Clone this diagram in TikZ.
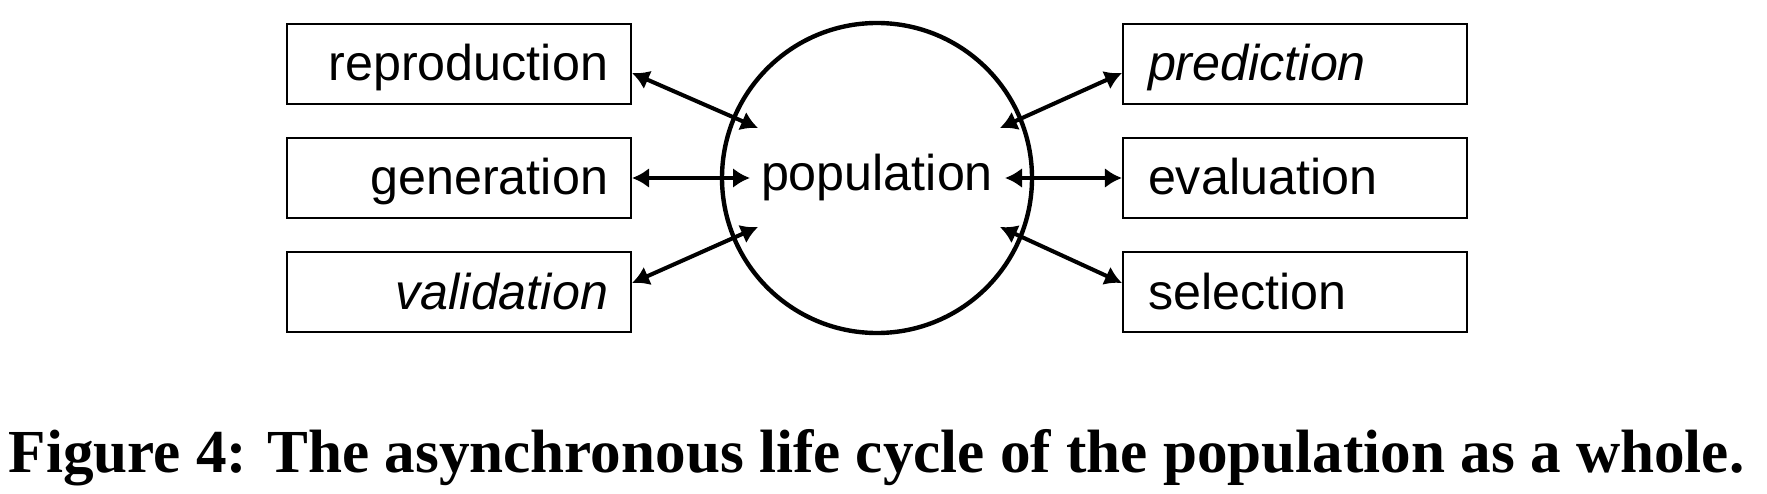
\documentclass[tikz,border=0pt]{standalone}
\usepackage{fontspec}
\setmainfont{Liberation Serif}
\setsansfont{Liberation Sans}
\usepackage{tikz}
\usetikzlibrary{positioning, arrows.meta}

\begin{document}
\begin{tikzpicture}[font=\sffamily\fontsize{14.3}{16}\selectfont,
    >={Latex[length=1.7mm, width=2mm]},
    stage/.style={draw, line width=0.6pt, minimum width=3.44cm, minimum height=0.74cm,
                  text height=0.45cm, text depth=0.11cm},
    leftstage/.style={stage, text width=2.98cm, align=right, inner xsep=0.23cm},
    rightstage/.style={stage, text width=2.94cm, align=left, inner xsep=0.25cm},
    link/.style={<->, line width=1.15pt}]
  \useasboundingbox (0,0) rectangle (17.67,-4.94);

  % Population
  \node[circle, draw, line width=1.25pt, minimum size=3.1cm, inner sep=0pt] (pop) at (8.77,-1.78) {population};

  % Left stages
  \node[leftstage] (rep) at (4.59,-0.64) {reproduction};
  \node[leftstage] (gen) at (4.59,-1.78) {generation};
  \node[leftstage] (val) at (4.59,-2.92) {\itshape validation};

  % Right stages
  \node[rightstage] (pred) at (12.95,-0.64) {\itshape prediction};
  \node[rightstage] (eval) at (12.95,-1.78) {evaluation};
  \node[rightstage] (sel) at (12.95,-2.92) {selection};

  % Arrow ends inside the circle
  \coordinate (in-rep) at ([shift={(-1.19,0.50)}]pop.center);
  \coordinate (in-gen) at ([shift={(-1.27,0)}]pop.center);
  \coordinate (in-val) at ([shift={(-1.19,-0.49)}]pop.center);
  \coordinate (in-pred) at ([shift={(1.23,0.50)}]pop.center);
  \coordinate (in-eval) at ([shift={(1.28,0)}]pop.center);
  \coordinate (in-sel) at ([shift={(1.23,-0.49)}]pop.center);

  \draw[link] ([yshift=-0.09cm]rep.east) -- (in-rep);
  \draw[link] (gen.east) -- (in-gen);
  \draw[link] ([yshift=0.09cm]val.east) -- (in-val);
  \draw[link] (in-pred) -- ([yshift=-0.09cm]pred.west);
  \draw[link] (in-eval) -- (eval.west);
  \draw[link] (in-sel) -- ([yshift=0.09cm]sel.west);

  % Caption
  \node[anchor=base, font=\rmfamily\bfseries\fontsize{17.4}{20}\selectfont] (caption) at (8.765,-4.72)
    {Figure 4: The asynchronous life cycle of the population as a whole.};
\end{tikzpicture}
\end{document}
